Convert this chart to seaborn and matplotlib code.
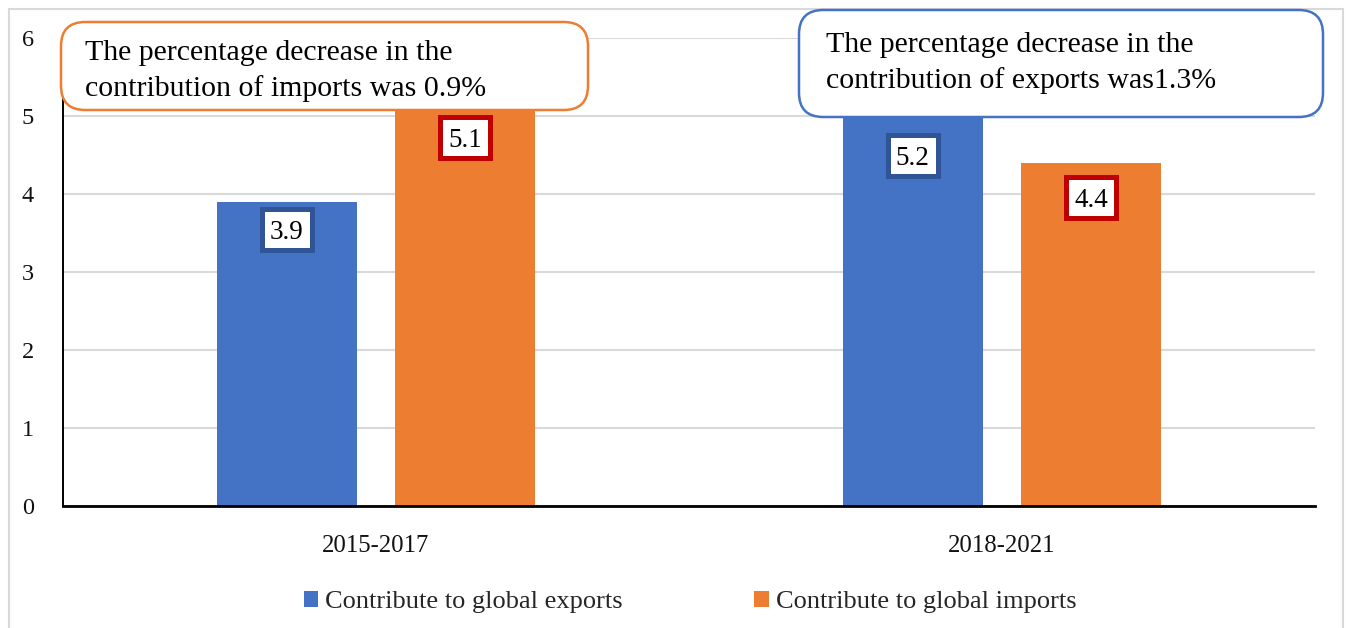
import matplotlib
matplotlib.use("Agg")
import matplotlib.pyplot as plt
from matplotlib.patches import FancyBboxPatch, Rectangle, Patch
from matplotlib.path import Path
import pandas as pd
import seaborn as sns

# Chart data
periods = ["2015-2017", "2018-2021"]
series_names = ["Contribute to global exports", "Contribute to global imports"]
exports = [3.9, 5.2]
imports = [5.1, 4.4]
y_ticks = [0, 1, 2, 3, 4, 5, 6]
note_imports = "The percentage decrease in the\ncontribution of imports was 0.9%"
note_exports = "The percentage decrease in the\ncontribution of exports was1.3%"

bar_colors = ["#4472C4", "#ED7D31"]
label_edges = ["#2F5597", "#C00000"]
# how far (px) each value label sits below its bar top, per series and period
label_drop = [[31, 58], [32, 38]]

df = pd.DataFrame({
    "period": periods * 2,
    "series": [series_names[0]] * len(periods) + [series_names[1]] * len(periods),
    "value": exports + imports,
})

sns.set_style("white")
plt.rcParams["font.family"] = ["Liberation Serif", "DejaVu Serif"]

W, H = 1346, 628
fig = plt.figure(figsize=(W / 100, H / 100), dpi=100)
fig.patch.set_facecolor("white")

# light outer frame of the chart area
fig.patches.append(Rectangle((9 / W, -0.05), (1343 - 9) / W, (H - 9) / H + 0.05,
                             transform=fig.transFigure, fill=False,
                             edgecolor="#D9D9D9", linewidth=1.5, zorder=0))

ax = fig.add_axes([63 / W, (H - 506) / H, (1315 - 63) / W, (506 - 38) / H])
sns.barplot(data=df, x="period", y="value", hue="series", hue_order=series_names,
            palette=bar_colors, width=0.57, gap=0.216, saturation=1,
            edgecolor="none", ax=ax, legend=False, zorder=2)

ax.set_ylim(0, 6)
ax.set_xlim(-0.5, 1.5)
ax.set_yticks(y_ticks)
ax.set_yticklabels([str(t) for t in y_ticks])
ax.yaxis.grid(True, color="#D9D9D9", linewidth=1.5, zorder=0)
ax.xaxis.grid(False)
ax.set_axisbelow(True)
ax.set_xlabel("")
ax.set_ylabel("")
ax.tick_params(axis="y", length=0, pad=21, labelsize=17.5, labelcolor="#111111")
ax.tick_params(axis="x", length=0, pad=21, labelsize=17.8, labelcolor="#111111")
for side in ["top", "right"]:
    ax.spines[side].set_visible(False)
ax.spines["left"].set_color("black")
ax.spines["left"].set_linewidth(1.4)
ax.spines["bottom"].set_color("black")
ax.spines["bottom"].set_linewidth(2)


def digit_frame(x0, y0, width, height, mutation_size):
    """Square frame around numeric text, padded more on top than below so
    that descender-free digits look centred."""
    pad = 0.3 * mutation_size
    shift = 0.11 * mutation_size
    left, right = x0 - pad, x0 + width + pad
    bottom, top = y0 - pad + shift, y0 + height + pad + shift
    verts = [(left, bottom), (right, bottom), (right, top), (left, top), (left, bottom)]
    codes = [Path.MOVETO, Path.LINETO, Path.LINETO, Path.LINETO, Path.CLOSEPOLY]
    return Path(verts, codes)


# boxed value labels inside the top of each bar
for container, edge, drops in zip(ax.containers, label_edges, label_drop):
    for bar, drop in zip(container, drops):
        h = bar.get_height()
        ax.annotate(f"{h:.1f}", (bar.get_x() + bar.get_width() / 2, h),
                    xytext=(0, -drop), textcoords="offset pixels",
                    ha="center", va="center", fontsize=19.5, color="black", zorder=5,
                    bbox=dict(boxstyle=digit_frame, facecolor="white",
                              edgecolor=edge, linewidth=3.6))

# rounded callout boxes
def callout(x0, y0, x1, y1, edge, text, tx, ty):
    box = FancyBboxPatch((x0 / W, (H - y1) / H), (x1 - x0) / W, (y1 - y0) / H,
                         boxstyle="round,pad=0,rounding_size=0.018",
                         transform=fig.transFigure, facecolor="white",
                         edgecolor=edge, linewidth=1.8, zorder=10,
                         mutation_aspect=W / H)
    fig.patches.append(box)
    fig.text(tx / W, (H - ty) / H, text, ha="left", va="center", fontsize=21.5,
             linespacing=1.45, color="black", zorder=11)

callout(61, 22, 588, 110, "#ED7D31", note_imports, 85, 71)
callout(799, 10, 1323, 117, "#4472C4", note_exports, 826, 63)

# legend below the plot
handles = [Patch(facecolor=c, edgecolor="none") for c in bar_colors]
fig.legend(handles, series_names, loc="center", bbox_to_anchor=(690 / W, (H - 602) / H),
           ncol=2, frameon=False, fontsize=19, handlelength=0.55, handleheight=0.55,
           handletextpad=0.25, columnspacing=5.0)

fig.savefig("out.png", dpi=100, facecolor="white")
